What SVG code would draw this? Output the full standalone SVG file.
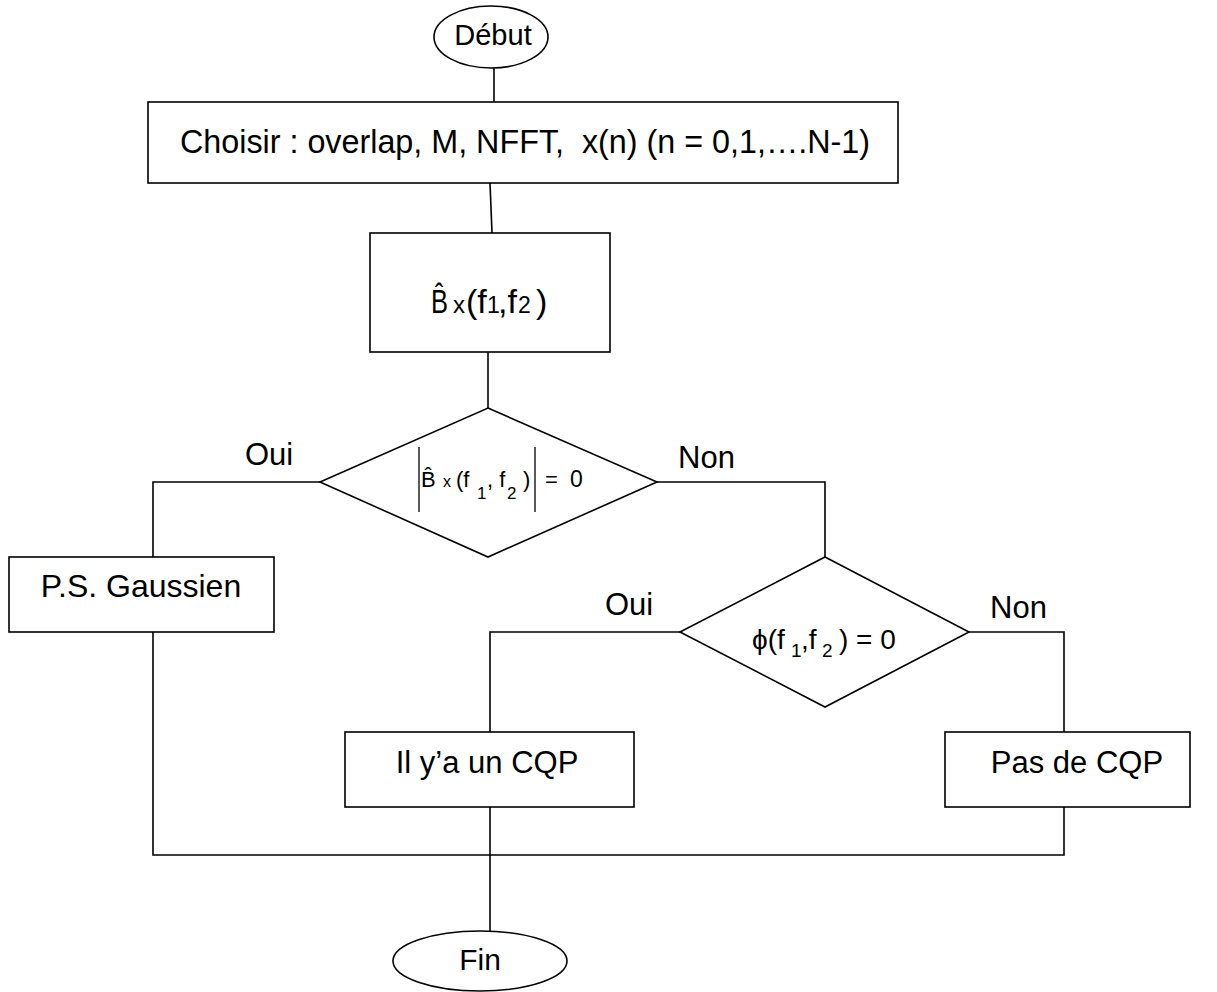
<svg xmlns="http://www.w3.org/2000/svg" width="1217" height="992" viewBox="0 0 1217 992">
<style>
.shape{fill:#fff;stroke:#000;stroke-width:1.6}
.wire{fill:none;stroke:#000;stroke-width:1.6}
.bar{stroke:#000;stroke-width:1.3}
text{font-family:"Liberation Sans",Arial,sans-serif;fill:#000}
.c{text-anchor:middle}
</style>
<rect width="1217" height="992" fill="#fff"/>
<g id="connectors">
<line class="wire" x1="494" y1="68" x2="494" y2="102"/>
<line class="wire" x1="490" y1="183" x2="492" y2="233"/>
<line class="wire" x1="488" y1="352" x2="488" y2="408"/>
<polyline class="wire" points="320,482 153,482 153,557"/>
<polyline class="wire" points="657,482 825,482 825,557"/>
<polyline class="wire" points="680,632 490,632 490,732"/>
<polyline class="wire" points="969,632 1064,632 1064,732"/>
<polyline class="wire" points="153,632 153,855 1064,855 1064,807"/>
<line class="wire" x1="490" y1="807" x2="490" y2="931"/>
</g>
<g id="debut">
<ellipse class="shape" cx="491" cy="37" rx="57" ry="31"/>
<text class="c" x="493" y="45" font-size="29">Début</text>
</g>
<g id="choisir">
<rect class="shape" x="148" y="102" width="750" height="81"/>
<text x="180" y="153" font-size="34" textLength="690" lengthAdjust="spacingAndGlyphs">Choisir : overlap, M, NFFT,&#160; x(n) (n = 0,1,….N-1)</text>
</g>
<g id="bispectre">
<rect class="shape" x="370" y="233" width="240" height="119"/>
<text x="431" y="313" font-size="34" textLength="17" lengthAdjust="spacingAndGlyphs">B̂</text>
<text x="453" y="313" font-size="24">x</text>
<text x="466" y="313" font-size="34">(f</text>
<text x="487" y="313" font-size="23">1</text>
<text x="498" y="313" font-size="34">,f</text>
<text x="518" y="313" font-size="23">2</text>
<text x="536" y="313" font-size="34">)</text>
</g>
<g id="test-gauss">
<polygon class="shape" points="488,408 657,482 488,557 320,482"/>
<line class="bar" x1="419" y1="447" x2="419" y2="512"/>
<line class="bar" x1="535" y1="447" x2="535" y2="512"/>
<text x="421" y="487" font-size="22">B̂</text>
<text x="443" y="487" font-size="16">x</text>
<text x="456" y="487" font-size="22">(f</text>
<text x="477" y="499" font-size="17">1</text>
<text x="487" y="487" font-size="22">, f</text>
<text x="507" y="499" font-size="17">2</text>
<text x="523" y="487" font-size="22">)</text>
<text x="545" y="487" font-size="22">=</text>
<text x="570" y="487" font-size="23">0</text>
</g>
<g id="test-phase">
<polygon class="shape" points="825,557 969,632 825,707 680,632"/>
<text x="752" y="649" font-size="28">ϕ(f</text>
<text x="791" y="657" font-size="19">1</text>
<text x="801" y="649" font-size="28">,f</text>
<text x="822" y="657" font-size="19">2</text>
<text x="839" y="649" font-size="28">) = 0</text>
</g>
<g id="gaussien">
<rect class="shape" x="9" y="557" width="265" height="75"/>
<text class="c" x="141" y="597" font-size="32">P.S. Gaussien</text>
</g>
<g id="cqp">
<rect class="shape" x="345" y="732" width="289" height="75"/>
<text class="c" x="487" y="773" font-size="31">Il y’a un CQP</text>
</g>
<g id="pas-cqp">
<rect class="shape" x="945" y="732" width="245" height="75"/>
<text class="c" x="1077" y="773" font-size="31">Pas de CQP</text>
</g>
<g id="fin">
<ellipse class="shape" cx="480" cy="961" rx="87" ry="30"/>
<text class="c" x="480" y="970" font-size="30">Fin</text>
</g>
<g id="labels">
<text x="245" y="465" font-size="31">Oui</text>
<text x="678" y="468" font-size="31">Non</text>
<text x="605" y="615" font-size="31">Oui</text>
<text x="990" y="618" font-size="31">Non</text>
</g>
</svg>
